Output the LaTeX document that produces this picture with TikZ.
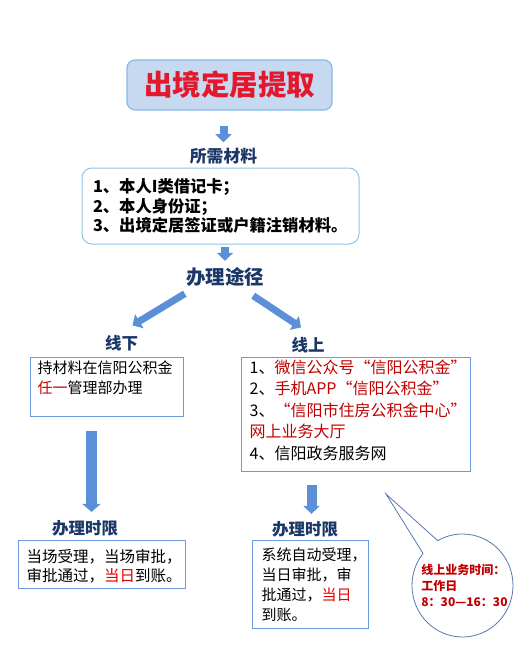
\documentclass[tikz,border=0pt]{standalone}
\usepackage{fontspec}
\newfontfamily\cjk{Noto Sans CJK SC}
\usetikzlibrary{arrows.meta,shapes.callouts}
\definecolor{titlefill}{HTML}{C6D9F1}
\definecolor{titleedge}{HTML}{86B9E6}
\definecolor{titlered}{HTML}{E3182D}
\definecolor{headnavy}{HTML}{1B3768}
\definecolor{listedge}{HTML}{8FC4EA}
\definecolor{frameedge}{HTML}{6A9BDE}
\definecolor{arrowblue}{HTML}{5B8FD8}
\definecolor{darkred}{HTML}{C00000}
\definecolor{brightred}{HTML}{E00000}
\definecolor{bubbleedge}{HTML}{5877AF}
\tikzset{
  titlebox/.style={rounded corners=8pt, draw=titleedge, line width=1.2pt, fill=titlefill, minimum width=205pt, minimum height=50pt, text=titlered, font=\cjk\bfseries\fontsize{28.5}{30}\selectfont},
  heading/.style={inner sep=0pt, text=headnavy, font=\cjk\bfseries\fontsize{#1}{#1}\selectfont},
  heading/.default=17,
  listbox/.style={rounded corners=10pt, draw=listedge, line width=1pt, fill=white, align=left, text width=255pt, inner xsep=11pt, minimum height=76pt, font=\cjk\bfseries\fontsize{16.3}{19.5}\selectfont},
  frame/.style={draw=frameedge, line width=1pt, inner sep=0pt},
  body/.style={inner sep=0pt, align=left, anchor=north west},
  blockarrow/.style={-{Triangle[width=16pt,length=8pt]}, line width=8pt, draw=arrowblue},
  bigarrow/.style={-{Triangle[width=18pt,length=8pt]}, line width=11pt, draw=arrowblue},
  bubble/.style={ellipse callout, draw=bubbleedge, line width=0.8pt, minimum width=101pt, minimum height=103pt, inner sep=0pt, callout pointer arc=22},
  bubbletext/.style={inner sep=0pt, align=left, text=darkred, font=\cjk\bfseries\fontsize{12}{16}\selectfont}
}

\begin{document}
\begin{tikzpicture}[x=1pt,y=-1pt]
  \useasboundingbox (0,0) rectangle (516,669);

  % top part
  \node[titlebox] (title) at (229.5,85) {出境定居提取};
  \node[heading=16.8] (needs) at (223.5,156.5) {所需材料};
  \node[listbox] (materials) at (220.5,206) {1、本人I类借记卡；\\2、本人身份证；\\3、出境定居签证或户籍注销材料。};
  \node[heading=19.5] (route) at (225,277) {办理途径};

  \draw[blockarrow, shorten <=15pt, shorten >=6pt] (needs.north |- title.south) -- (needs.north);
  \draw[blockarrow, shorten <=2pt, shorten >=6.5pt] (route.north |- materials.south) -- (route.north);

  % offline / online
  \node[heading=16.5] (offline) at (121.5,343.5) {线下};
  \node[heading=16.5] (online) at (308,345.5) {线上};
  \draw[blockarrow, line width=7pt] ([shift={(-1,7)}]route.south west) -- ([shift={(11,-10)}]offline.north);
  \draw[blockarrow, line width=7pt] ([shift={(-11,9)}]route.south east) -- ([shift={(-7,-10)}]online.north);

  \node[frame, minimum width=153pt, minimum height=59pt] (offframe) at (106.5,386.5) {};
  \node[body, font=\cjk\fontsize{15}{20}\selectfont] (offtext) at ([shift={(8,4)}]offframe.north west)
    {持材料在信阳公积金\\\textcolor{darkred}{任一}管理部办理};

  \node[frame, minimum width=229pt, minimum height=114pt] (onframe) at (355.5,414) {};
  \node[body, font=\cjk\fontsize{16}{21.5}\selectfont] (ontext) at ([shift={(9,3)}]onframe.north west)
    {1、\textcolor{darkred}{微信公众号“信阳公积金”}\\
     2、\textcolor{darkred}{手机APP“信阳公积金”}\\
     3、\textcolor{darkred}{“信阳市住房公积金中心”}\\
     \textcolor{darkred}{网上业务大厅}\\
     4、信阳政务服务网};

  % time limits
  \node[heading=16.5] (offtime) at (85,528) {办理时限};
  \node[heading=16.5] (ontime) at (305,529.5) {办理时限};
  \draw[bigarrow] ([shift={(-15,14)}]offframe.south) -- ([shift={(6.5,-8)}]offtime.north);
  \draw[blockarrow, line width=10pt] ([shift={(-44,13)}]onframe.south) -- ([shift={(6.5,-7.5)}]ontime.north);

  \node[frame, minimum width=167pt, minimum height=48pt] (offtimeframe) at (101.5,564) {};
  \node[body, font=\cjk\fontsize{15.5}{19}\selectfont] (offtimetext) at ([shift={(9,9.5)}]offtimeframe.north west)
    {当场受理，当场审批，\\审批通过，\textcolor{brightred}{当日}到账。};

  \node[frame, minimum width=116pt, minimum height=88pt] (ontimeframe) at (310,584) {};
  \node[body, font=\cjk\fontsize{15}{20}\selectfont] (ontimetext) at ([shift={(10,8.5)}]ontimeframe.north west)
    {系统自动受理，\\当日审批，审\\批通过，\textcolor{brightred}{当日}\\到账。};

  % callout
  \coordinate (bubbletip) at (386,494);
  \node[bubble, callout absolute pointer={(bubbletip)}] (bubble) at (462.5,585.5) {};
  \node[bubbletext] (hours) at ([xshift=2pt]bubble.center) {线上业务时间：\\工作日\\8：30—16：30};
\end{tikzpicture}
\end{document}
